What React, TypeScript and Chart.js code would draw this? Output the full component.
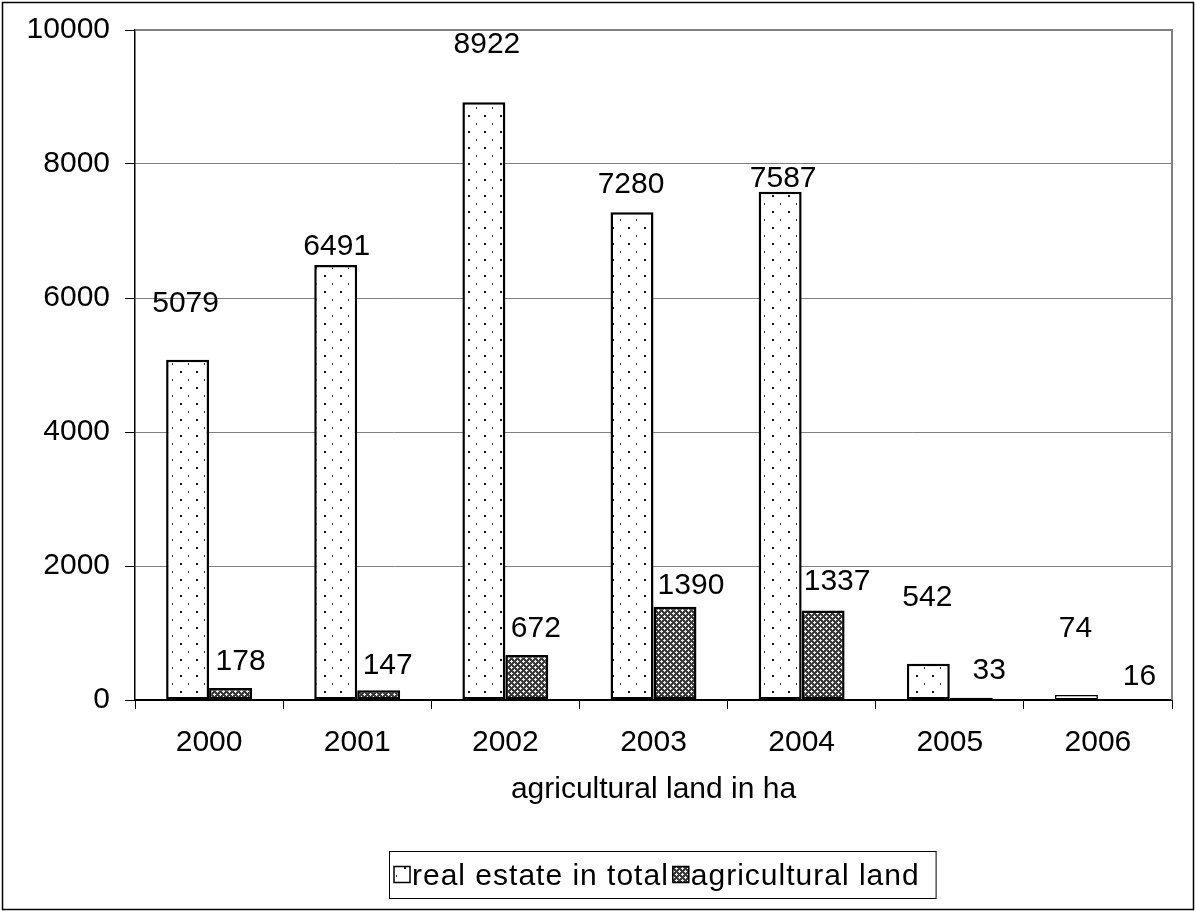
import React, { useEffect, useRef } from "react";
import { Chart, registerables } from "chart.js";

Chart.register(...registerables);

// ---------- data ----------
const categories = ["2000", "2001", "2002", "2003", "2004", "2005", "2006"];
const realEstateTotal = [5079, 6491, 8922, 7280, 7587, 542, 74];
const agriculturalLand = [178, 147, 672, 1390, 1337, 33, 16];
const yTickValues = [0, 2000, 4000, 6000, 8000, 10000];
const seriesNames = ["real estate in total", "agricultural land"];
const xAxisTitle = "agricultural land in ha";

// ---------- label nudges (px, relative to bar top centre) ----------
const realLabelDx = [-2, 1, 3, -1, 3, -1, -1];
const realLabelDy = [-58, -21, -60, -30, -15, -68, -69];
const agriLabelDx = [10, 9, 9, 16, 14, 18, 20];
const agriLabelDy = [-29, -27, -29, -24, -31, -30, -25];

const FONT_FAMILY = "'Liberation Sans', Arial, sans-serif";
const FONT_SIZE = 30;
const W = 1196;
const H = 911;

function makeDotPattern(): CanvasPattern | string {
  const c = document.createElement("canvas");
  c.width = 16;
  c.height = 16;
  const g = c.getContext("2d");
  if (!g) return "#fff";
  g.fillStyle = "#ffffff";
  g.fillRect(0, 0, 16, 16);
  g.fillStyle = "#111111";
  g.fillRect(4, 3, 2, 2);
  g.fillStyle = "#333333";
  g.fillRect(12, 11, 1, 2);
  return g.createPattern(c, "repeat") || "#fff";
}

function makeCrossPattern(): CanvasPattern | string {
  const c = document.createElement("canvas");
  c.width = 6;
  c.height = 6;
  const g = c.getContext("2d");
  if (!g) return "#777";
  g.fillStyle = "#3a3a3a";
  g.fillRect(0, 0, 6, 6);
  g.fillStyle = "#eeeeee";
  const plus = (cx: number, cy: number) => {
    g.fillRect(cx, cy, 1, 1);
    g.fillRect((cx + 1) % 6, cy, 1, 1);
    g.fillRect((cx + 5) % 6, cy, 1, 1);
    g.fillRect(cx, (cy + 1) % 6, 1, 1);
    g.fillRect(cx, (cy + 5) % 6, 1, 1);
  };
  plus(1, 1);
  plus(4, 4);
  return g.createPattern(c, "repeat") || "#777";
}

function fillDigitsCentered(ctx: CanvasRenderingContext2D, text: string, cx: number, cy: number) {
  ctx.textAlign = "center";
  ctx.textBaseline = "alphabetic";
  ctx.fillText(text, cx, cy + 0.358 * FONT_SIZE);
}

const labelPlugin = {
  id: "barValueLabels",
  afterDatasetsDraw(chart: any) {
    const ctx: CanvasRenderingContext2D = chart.ctx;
    ctx.save();
    ctx.font = `${FONT_SIZE}px ${FONT_FAMILY}`;
    ctx.fillStyle = "#000";
    const dxs = [realLabelDx, agriLabelDx];
    const dys = [realLabelDy, agriLabelDy];
    chart.data.datasets.forEach((ds: any, i: number) => {
      const meta = chart.getDatasetMeta(i);
      meta.data.forEach((bar: any, j: number) => {
        fillDigitsCentered(ctx, String(ds.data[j]), bar.x + dxs[i][j], bar.y + dys[i][j]);
      });
    });
    ctx.restore();
  },
};

const framePlugin = {
  id: "frameAndLegend",
  afterDraw(chart: any) {
    const ctx: CanvasRenderingContext2D = chart.ctx;
    const a = chart.chartArea;
    ctx.save();
    // plot area top / right border
    ctx.strokeStyle = "#808080";
    ctx.lineWidth = 2;
    ctx.beginPath();
    ctx.moveTo(a.left, a.top);
    ctx.lineTo(a.right, a.top);
    ctx.lineTo(a.right, a.bottom);
    ctx.stroke();

    // outer chart border
    ctx.strokeStyle = "#000";
    ctx.lineWidth = 1.5;
    ctx.strokeRect(2.5, 2.5, W - 5, H - 4);

    // legend
    ctx.font = `${FONT_SIZE}px ${FONT_FAMILY}`;
    (ctx as any).letterSpacing = "1px";
    const left = 389;
    const top = 851;
    const boxH = 47;
    const sw = 16;
    const cy = top + boxH / 2;
    let x = left + 5;
    const items = chart.data.datasets.map((ds: any) => ({ label: ds.label, fill: ds.backgroundColor }));
    const positions: { sx: number; tx: number }[] = [];
    items.forEach((it: any, idx: number) => {
      const sx = x;
      const tx = sx + sw + 2;
      positions.push({ sx, tx });
      x = tx + ctx.measureText(it.label).width + (idx < items.length - 1 ? 4 : 16);
    });
    const boxW = x - left;
    ctx.fillStyle = "#fff";
    ctx.fillRect(left, top, boxW, boxH);
    ctx.strokeStyle = "#000";
    ctx.lineWidth = 1;
    ctx.strokeRect(left + 0.5, top + 0.5, boxW, boxH);
    items.forEach((it: any, idx: number) => {
      const { sx, tx } = positions[idx];
      ctx.fillStyle = it.fill;
      ctx.fillRect(sx, cy - sw / 2, sw, sw);
      ctx.strokeStyle = "#000";
      ctx.lineWidth = 1.5;
      ctx.strokeRect(sx, cy - sw / 2, sw, sw);
      ctx.fillStyle = "#000";
      ctx.textAlign = "left";
      ctx.textBaseline = "alphabetic";
      ctx.fillText(it.label, tx, cy + 0.358 * FONT_SIZE);
    });
    ctx.restore();
  },
};

const barBorder = (c: any) => (c.parsed && c.parsed.y > 100 ? 2.5 : 1.5);

export default function App() {
  const ref = useRef<HTMLCanvasElement | null>(null);

  useEffect(() => {
    if (!ref.current) return;
    const dots = makeDotPattern();
    const cross = makeCrossPattern();
    const font = { family: FONT_FAMILY, size: FONT_SIZE };
    const chart = new Chart(ref.current, {
      type: "bar",
      data: {
        labels: categories,
        datasets: [
          {
            label: seriesNames[0],
            data: realEstateTotal,
            backgroundColor: dots as any,
            borderColor: "#000",
            borderWidth: barBorder as any,
            borderSkipped: false,
            categoryPercentage: 0.58,
            barPercentage: 1,
          },
          {
            label: seriesNames[1],
            data: agriculturalLand,
            backgroundColor: cross as any,
            borderColor: "#000",
            borderWidth: barBorder as any,
            borderSkipped: false,
            categoryPercentage: 0.58,
            barPercentage: 1,
          },
        ],
      },
      options: {
        responsive: false,
        animation: false,
        devicePixelRatio: 1,
        layout: { padding: { left: 0, top: 30, right: 24, bottom: 0 } },
        plugins: {
          legend: { display: false },
          tooltip: { enabled: false },
          title: { display: false },
        },
        scales: {
          x: {
            grid: {
              display: true,
              offset: true,
              drawOnChartArea: false,
              drawTicks: true,
              tickLength: 9,
              tickColor: "#000",
              tickWidth: 1,
            },
            border: { display: true, color: "#000", width: 2 },
            ticks: { font, color: "#000", padding: 16, maxRotation: 0 },
            title: {
              display: true,
              text: xAxisTitle,
              font,
              color: "#000",
              padding: { top: 0, bottom: 103 },
            },
            afterFit(scale: any) {
              scale.height = 211;
              scale.paddingLeft = 0;
              scale.paddingRight = 0;
            },
          },
          y: {
            min: 0,
            max: 10000,
            grid: {
              color: (c: any) => (c.tick && c.tick.value === 0 ? "rgba(0,0,0,0)" : "#808080"),
              lineWidth: 1,
              tickColor: "#000",
              tickLength: 10,
              drawTicks: true,
            },
            border: { display: true, color: "#000", width: 1.5 },
            ticks: {
              font,
              color: "#000",
              padding: 15,
              callback: (v: any) => String(v),
            },
            afterBuildTicks(scale: any) {
              scale.ticks = yTickValues.map((v) => ({ value: v }));
            },
            afterFit(scale: any) {
              scale.width = 135;
              scale.paddingTop = 0;
              scale.paddingBottom = 0;
            },
          },
        },
      },
      plugins: [labelPlugin, framePlugin],
    });
    return () => chart.destroy();
  }, []);

  return (
    <div style={{ position: "absolute", left: 0, top: 0, width: W, height: H, background: "#fff" }}>
      <canvas ref={ref} width={W} height={H} style={{ display: "block" }} />
    </div>
  );
}
